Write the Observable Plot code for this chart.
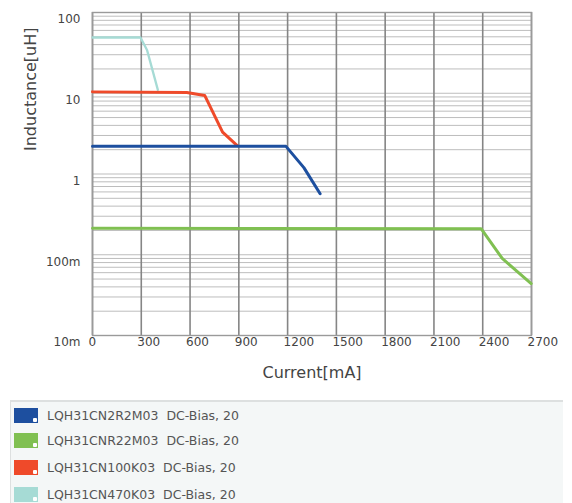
<!DOCTYPE html>
<html>
<head>
<meta charset="utf-8">
<script src="https://cdn.jsdelivr.net/npm/d3@7"></script>
<script src="https://cdn.jsdelivr.net/npm/@observablehq/plot@0.6"></script>
<style>
  html, body { margin: 0; padding: 0; background: #fff; }
  #wrap { position: relative; width: 572px; height: 503px; overflow: hidden; font-family: "DejaVu Sans", sans-serif; }
  #legend { position: absolute; left: 10px; top: 400px; width: 553px; height: 110px; background: #f4f7f7;
            border-top: 2px solid #dde0e0; border-left: 1px solid #dde0e0; box-sizing: border-box; }
  .row { position: absolute; left: 3px; height: 16px; display: flex; align-items: center; }
  .sw { width: 24px; height: 15px; position: relative; margin-right: 9px; }
  .sw::after { content: ""; position: absolute; right: 1px; bottom: 1px; width: 4px; height: 4px; background: #fff; border-radius: 1px; }
  .lab { font-size: 12.5px; color: #555; white-space: pre; }
</style>
</head>
<body>
<div id="wrap"><div id="chart"></div><div id="legend"></div></div>
<script>
// Series (current in mA, inductance in uH)
const seriesNames = ["LQH31CN2R2M03  DC-Bias, 20", "LQH31CNR22M03  DC-Bias, 20", "LQH31CN100K03  DC-Bias, 20", "LQH31CN470K03  DC-Bias, 20"];
const seriesColors = ["#1d4f9f", "#80c052", "#ef4a2a", "#a6dbd5"];

const blueCurrent = [0, 1190, 1300, 1400];
const blueL       = [2.2, 2.2, 1.2, 0.57];
const greenCurrent = [0, 2390, 2520, 2698];
const greenL       = [0.213, 0.21, 0.09, 0.044];
const redCurrent = [0, 580, 690, 800, 890];
const redL       = [10.4, 10.2, 9.4, 3.3, 2.25];
const cyanCurrent = [0, 295, 336, 402];
const cyanL       = [49, 49, 34, 11];

const xTicks = [0, 300, 600, 900, 1200, 1500, 1800, 2100, 2400, 2700];
const yTicks = [0.01, 0.1, 1, 10, 100];
const yTickLabels = ["10m", "100m", "1", "10", "100"];

const toRows = (xs, ys, s) => xs.map((x, i) => ({x, y: ys[i], s}));
const data = [
  ...toRows(greenCurrent, greenL, 1),
  ...toRows(cyanCurrent, cyanL, 3),
  ...toRows(redCurrent, redL, 2),
  ...toRows(blueCurrent, blueL, 0)
];
const order = [1, 3, 2, 0];
const minorTicks = d3.scaleLog().domain([0.01, 100]).ticks();

const chart = Plot.plot({
  width: 572,
  height: 395,
  marginLeft: 92,
  marginRight: 41,
  marginTop: 12,
  marginBottom: 60,
  style: {fontFamily: "DejaVu Sans, sans-serif", background: "#fff"},
  x: {domain: [0, 2700]},
  y: {type: "log", domain: [0.01, 100]},
  marks: [
    Plot.ruleY(minorTicks, {stroke: "#bdbdbd", strokeWidth: 1}),
    Plot.ruleX(xTicks, {stroke: "#858585", strokeWidth: 1.6}),
    Plot.frame({stroke: "#9a9a9a", strokeWidth: 1.4}),
    Plot.axisX(xTicks, {tickSize: 0, tickPadding: 2, textAnchor: "start", dx: -4, fontSize: 12, color: "#444", label: null,
                        tickFormat: (d) => String(d)}),
    Plot.axisY(yTicks, {tickSize: 0, tickPadding: 12, dy: 7, fontSize: 12, color: "#444", label: null,
                        tickFormat: (d) => yTickLabels[yTicks.indexOf(d)]}),
    ...order.map(k => Plot.line(data.filter(d => d.s === k), {x: "x", y: "y", stroke: seriesColors[k], strokeWidth: k === 3 ? 2.3 : 3, strokeLinejoin: "round"})),
    Plot.text(["Current[mA]"], {frameAnchor: "bottom", dy: 42, fontSize: 16, fill: "#444"}),
    Plot.text(["Inductance[uH]"], {frameAnchor: "left", dx: -62, dy: -23, rotate: -90, fontSize: 16, fill: "#444"})
  ]
});
document.getElementById("chart").appendChild(chart);

const legend = document.getElementById("legend");
const rowTops = [5, 30, 57, 84];
seriesNames.forEach((name, i) => {
  const r = document.createElement("div");
  r.className = "row";
  r.style.top = rowTops[i] + "px";
  r.innerHTML = `<div class="sw" style="background:${seriesColors[i]}"></div><div class="lab">${name}</div>`;
  legend.appendChild(r);
});
</script>
</body>
</html>
